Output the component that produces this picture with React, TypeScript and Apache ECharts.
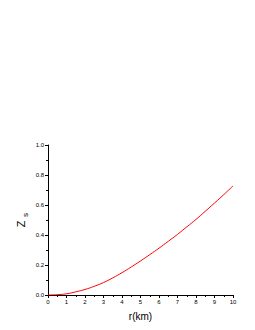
import React, { useEffect, useRef } from "react";
import * as echarts from "echarts";

const rValues = [0, 0.5, 1, 1.5, 2, 2.5, 3, 3.5, 4, 4.5, 5, 5.5, 6, 6.5, 7, 7.5, 8, 8.5, 9, 9.5, 10];
const zValues = [0, 0.002, 0.008, 0.021, 0.037, 0.058, 0.083, 0.114, 0.149, 0.187, 0.227, 0.269, 0.312, 0.358, 0.404, 0.454, 0.504, 0.558, 0.613, 0.669, 0.727];
const xTicks = [0, 1, 2, 3, 4, 5, 6, 7, 8, 9, 10];
const yTicks = [0, 0.2, 0.4, 0.6, 0.8, 1.0];
const yTitleMain = "Z";
const yTitleSub = "s";

export default function App() {
  const ref = useRef<HTMLDivElement>(null);
  useEffect(() => {
    if (!ref.current) return;
    const chart = echarts.init(ref.current, undefined, { renderer: "svg" });
    const font = "Arial, 'Liberation Sans', sans-serif";
    chart.setOption({
      animation: false,
      backgroundColor: "#ffffff",
      grid: { left: 48, right: 22, top: 145, bottom: 35, containLabel: false },
      graphic: [
        {
          type: "text",
          x: 21,
          y: 224,
          rotation: Math.PI / 2,
          style: {
            text: yTitleMain,
            fontFamily: font,
            fontSize: 11,
            fill: "#000",
            align: "center",
            verticalAlign: "middle",
          },
        },
        {
          type: "text",
          x: 25,
          y: 215,
          rotation: Math.PI / 2,
          style: {
            text: yTitleSub,
            fontFamily: font,
            fontSize: 8,
            fill: "#000",
            align: "center",
            verticalAlign: "middle",
          },
        },
      ],
      xAxis: {
        type: "value",
        min: xTicks[0],
        max: xTicks[xTicks.length - 1],
        interval: 1,
        name: "r(km)",
        nameLocation: "middle",
        nameGap: 16,
        nameTextStyle: { fontFamily: font, fontSize: 10, color: "#000" },
        axisLine: { show: true, onZero: false, lineStyle: { color: "#000", width: 1 } },
        axisTick: { show: true, inside: false, length: 3, lineStyle: { color: "#000" } },
        minorTick: { show: true, splitNumber: 2, length: 2, lineStyle: { color: "#000" } },
        axisLabel: { fontFamily: font, fontSize: 6, color: "#000", margin: 4 },
        splitLine: { show: false },
      },
      yAxis: {
        type: "value",
        min: yTicks[0],
        max: yTicks[yTicks.length - 1],
        interval: 0.2,
        axisLine: { show: true, onZero: false, lineStyle: { color: "#000", width: 1 } },
        axisTick: { show: true, inside: false, length: 3, lineStyle: { color: "#000" } },
        minorTick: { show: true, splitNumber: 2, length: 2, lineStyle: { color: "#000" } },
        axisLabel: {
          fontFamily: font,
          fontSize: 6,
          color: "#000",
          margin: 4,
          formatter: (v: number) => v.toFixed(1),
        },
        splitLine: { show: false },
      },
      series: [
        {
          type: "line",
          data: rValues.map((r, i) => [r, zValues[i]]),
          smooth: true,
          showSymbol: false,
          symbol: "none",
          lineStyle: { color: "#ff0000", width: 1 },
        },
      ],
    });
    return () => chart.dispose();
  }, []);
  return (
    <div
      ref={ref}
      style={{ position: "absolute", left: 0, top: 0, width: 255, height: 330 }}
    />
  );
}
